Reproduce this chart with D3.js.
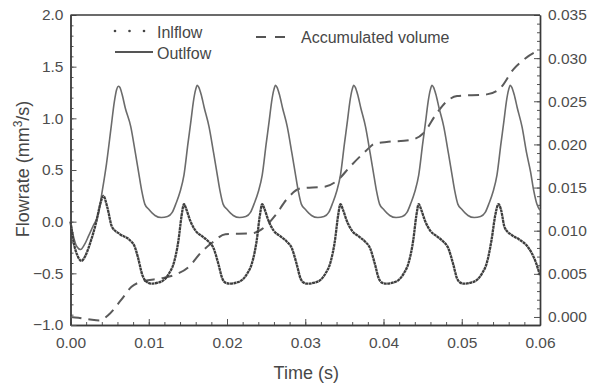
<!DOCTYPE html>
<html>
<head>
<meta charset="utf-8">
<script src="https://cdn.jsdelivr.net/npm/d3@7"></script>
<style>
  body { margin: 0; background: #fff; }
  svg text { font-family: "Liberation Sans", Arial, sans-serif; fill: #474747; }
</style>
</head>
<body>
<script>
// values: [time (s), value]
var inflow = [
  [0,0],[.0004,-.20],[.0009,-.33],[.0014,-.38],[.0019,-.33],[.0025,-.21],[.0033,0],[.0038,.17],[.0042,.25],
  [.0047,.14],[.0053,-.05],[.0063,-.12],[.0076,-.18],[.0082,-.24],[.0086,-.34],[.0092,-.52],[.0097,-.58],
  [.0103,-.60],[.0112,-.59],[.0120,-.56],[.0126,-.50],[.0132,-.40],[.0138,-.18],[.0142,.06],[.0145,.17],
  [.0148,.12],[.0153,.01],[.0160,-.09],[.0168,-.14],[.0176,-.19],[.0183,-.26],[.0189,-.41],[.0194,-.55],[.0198,-.59],
  [.0203,-.60],[.0212,-.59],[.0220,-.56],[.0226,-.50],[.0232,-.40],[.0238,-.18],[.0242,.06],[.0245,.17],
  [.0248,.12],[.0253,.01],[.0260,-.09],[.0268,-.14],[.0276,-.19],[.0283,-.26],[.0289,-.41],[.0294,-.55],[.0298,-.59],
  [.0303,-.60],[.0312,-.59],[.0320,-.56],[.0326,-.50],[.0332,-.40],[.0338,-.18],[.0342,.06],[.0345,.17],
  [.0348,.12],[.0353,.01],[.0360,-.09],[.0368,-.14],[.0376,-.19],[.0383,-.26],[.0389,-.41],[.0394,-.55],[.0398,-.59],
  [.0403,-.60],[.0412,-.59],[.0420,-.56],[.0426,-.50],[.0432,-.40],[.0438,-.18],[.0442,.06],[.0445,.17],
  [.0448,.12],[.0453,.01],[.0460,-.09],[.0468,-.14],[.0476,-.19],[.0483,-.26],[.0489,-.41],[.0494,-.55],[.0498,-.59],
  [.0503,-.60],[.0512,-.59],[.0520,-.56],[.0526,-.50],[.0532,-.40],[.0538,-.18],[.0543,.07],[.0547,.17],
  [.0550,.12],[.0555,-.06],[.0564,-.13],[.0573,-.17],[.0585,-.25],[.0594,-.38],[.0600,-.52]
];

var outflow = [
  [0,0],[.0004,-.15],[.0008,-.24],[.0013,-.27],[.0018,-.22],[.0023,-.14],[.0029,-.04],[.0036,.09],[.0040,.27],
  [.0046,.56],[.0052,.92],[.0056,1.16],[.0059,1.28],[.0061,1.31],[.0063,1.30],[.0066,1.23],[.0070,1.10],[.0077,.92],[.0083,.66],[.0087,.48],[.0091,.30],[.0095,.17],
  [.0100,.12],[.0108,.06],[.0116,.04],[.0124,.05],[.0130,.09],[.0135,.18],[.0140,.29],[.0145,.45],[.0150,.75],[.0154,.98],
  [.0157,1.16],[.0160,1.28],[.0162,1.32],[.0164,1.30],[.0167,1.23],[.0171,1.10],[.0177,.92],[.0183,.66],[.0187,.48],[.0191,.30],[.0195,.17],
  [.0200,.12],[.0208,.06],[.0216,.04],[.0224,.05],[.0230,.09],[.0235,.18],[.0240,.29],[.0245,.45],[.0250,.75],[.0254,.98],
  [.0257,1.16],[.0260,1.28],[.0262,1.32],[.0264,1.30],[.0267,1.23],[.0271,1.10],[.0277,.92],[.0283,.66],[.0287,.48],[.0291,.30],[.0295,.17],
  [.0300,.12],[.0308,.06],[.0316,.04],[.0324,.05],[.0330,.09],[.0335,.18],[.0340,.29],[.0345,.45],[.0350,.75],[.0354,.98],
  [.0357,1.16],[.0360,1.28],[.0362,1.32],[.0364,1.30],[.0367,1.23],[.0371,1.10],[.0377,.92],[.0383,.66],[.0387,.48],[.0391,.30],[.0395,.17],
  [.0400,.12],[.0408,.06],[.0416,.04],[.0424,.05],[.0430,.09],[.0435,.18],[.0440,.29],[.0445,.45],[.0450,.75],[.0454,.98],
  [.0457,1.16],[.0460,1.28],[.0462,1.32],[.0464,1.30],[.0467,1.23],[.0471,1.10],[.0477,.92],[.0483,.66],[.0487,.48],[.0491,.30],[.0495,.17],
  [.0500,.12],[.0508,.06],[.0516,.04],[.0524,.05],[.0530,.09],[.0535,.18],[.0540,.29],[.0545,.45],[.0550,.75],[.0554,.98],
  [.0557,1.16],[.0560,1.28],[.0562,1.32],[.0564,1.30],[.0567,1.23],[.0571,1.10],[.0577,.92],[.0583,.66],[.0588,.48],[.0592,.30],[.0596,.17],[.0600,.11]
];

var volume = [
  [0,0],[.0010,-.0001],[.0025,-.0003],[.0037,-.0004],[.0048,.0002],[.0065,.0020],[.0078,.0035],[.0091,.0041],
  [.0117,.0045],[.0134,.0049],[.0151,.0058],[.0168,.0076],[.0181,.0086],[.0198,.0096],[.0232,.0097],[.0249,.0105],
  [.0262,.0118],[.0276,.0136],[.0294,.0149],[.0325,.0151],[.0342,.0159],[.0357,.0174],[.0377,.0192],[.0389,.0201],
  [.0406,.0203],[.0434,.0205],[.0451,.0213],[.0468,.0236],[.0481,.0250],[.0494,.0256],[.0532,.0258],[.0549,.0265],
  [.0566,.0287],[.0579,.0298],[.0592,.0306],[.0600,.0309]
];

var xTicks = [0, .01, .02, .03, .04, .05, .06];
var yLeftTicks = [-1, -.5, 0, .5, 1, 1.5, 2];
var yRightTicks = [0, .005, .010, .015, .020, .025, .030, .035];
var legendNames = ["Inlflow", "Outlfow", "Accumulated volume"];

var W = 603, H = 384;
var pl = 70.5, pr = 540, pt = 15, pb = 325;   // plot box edges

var svg = d3.select("body").append("svg")
    .attr("width", W)
    .attr("height", H);

var x = d3.scaleLinear().domain([0, .06]).range([pl, pr]);
var y = d3.scaleLinear().domain([-1, 2]).range([pb, pt]);
var y2 = d3.scaleLinear().domain([-.00093, .035]).range([pb, pt]);

// minor ticks first, major on top
function minor(axis) {
    return axis.tickFormat("").tickSizeInner(-3).tickSizeOuter(0);
}

svg.append("g").attr("transform", "translate(0," + pb + ")")
    .call(minor(d3.axisBottom(x).tickValues(d3.range(0, 61, 2).map(function(d){ return d/1000; }))));
svg.append("g").attr("transform", "translate(" + pl + ",0)")
    .call(minor(d3.axisLeft(y).tickValues(d3.range(-10, 21).map(function(d){ return d/10; }))));
svg.append("g").attr("transform", "translate(" + pr + ",0)")
    .call(minor(d3.axisRight(y2).tickValues(d3.range(0, 36).map(function(d){ return d/1000; }))));

svg.append("g").attr("class", "axis")
    .attr("transform", "translate(0," + pb + ")")
    .call(d3.axisBottom(x).tickValues(xTicks).tickFormat(d3.format(".2f"))
        .tickSizeInner(-6).tickSizeOuter(0).tickPadding(12));

svg.append("g").attr("class", "axis")
    .attr("transform", "translate(" + pl + ",0)")
    .call(d3.axisLeft(y).tickValues(yLeftTicks).tickFormat(d3.format(".1f"))
        .tickSizeInner(-6).tickSizeOuter(0).tickPadding(7));

svg.append("g").attr("class", "axis")
    .attr("transform", "translate(" + pr + ",0)")
    .call(d3.axisRight(y2).tickValues(yRightTicks).tickFormat(d3.format(".3f"))
        .tickSizeInner(-6).tickSizeOuter(0).tickPadding(8));

svg.selectAll(".axis text").style("font-size", "15.5px").style("fill", "#4d4d4d");
svg.selectAll("path.domain").attr("stroke", "#3a3a3a").attr("stroke-width", 1.4);
svg.selectAll(".tick line").attr("stroke", "#555");

// top border
svg.append("line")
    .attr("x1", pl).attr("x2", pr)
    .attr("y1", pt).attr("y2", pt)
    .attr("stroke", "#3a3a3a").attr("stroke-width", 1.4);

// series
var flowLine = d3.line()
    .x(function(d){ return x(d[0]); })
    .y(function(d){ return y(d[1]); })
    .curve(d3.curveMonotoneX);

var volLine = d3.line()
    .x(function(d){ return x(d[0]); })
    .y(function(d){ return y2(d[1]); })
    .curve(d3.curveMonotoneX);

svg.append("path").datum(volume)
    .attr("d", volLine)
    .attr("fill", "none")
    .attr("stroke", "#5a5a5a")
    .attr("stroke-width", 2)
    .attr("stroke-dasharray", "11,7");

svg.append("path").datum(outflow)
    .attr("d", flowLine)
    .attr("fill", "none")
    .attr("stroke", "#6b6b6b")
    .attr("stroke-width", 1.6);

svg.append("path").datum(inflow)
    .attr("d", flowLine)
    .attr("fill", "none")
    .attr("stroke", "#3e3e3e")
    .attr("stroke-width", 2.3)
    .attr("stroke-dasharray", "3,0.5");

// legend
var lg = svg.append("g");
lg.selectAll("circle").data([115, 129.5, 144]).enter().append("circle")
    .attr("cx", function(d){ return d; }).attr("cy", 31)
    .attr("r", 1.3).attr("fill", "#444");
lg.append("text").attr("x", 157).attr("y", 38).style("font-size", "16px").text(legendNames[0]);

lg.append("line").attr("x1", 115).attr("x2", 153).attr("y1", 52).attr("y2", 52)
    .attr("stroke", "#555").attr("stroke-width", 1.8);
lg.append("text").attr("x", 157).attr("y", 59).style("font-size", "16px").text(legendNames[1]);

lg.append("line").attr("x1", 256).attr("x2", 287).attr("y1", 37).attr("y2", 37)
    .attr("stroke", "#555").attr("stroke-width", 2).attr("stroke-dasharray", "10,9");
lg.append("text").attr("x", 301).attr("y", 43).style("font-size", "16px").text(legendNames[2]);

// axis titles
svg.append("text")
    .attr("x", (pl + pr) / 2 + 1).attr("y", 379)
    .attr("text-anchor", "middle")
    .style("font-size", "18px")
    .text("Time (s)");

var yt = svg.append("text")
    .attr("transform", "translate(29,169) rotate(-90)")
    .attr("text-anchor", "middle")
    .style("font-size", "18px");
yt.append("tspan").text("Flowrate (mm");
yt.append("tspan").attr("dy", -7).style("font-size", "12px").text("3");
yt.append("tspan").attr("dy", 7).text("/s)");
</script>
</body>
</html>
